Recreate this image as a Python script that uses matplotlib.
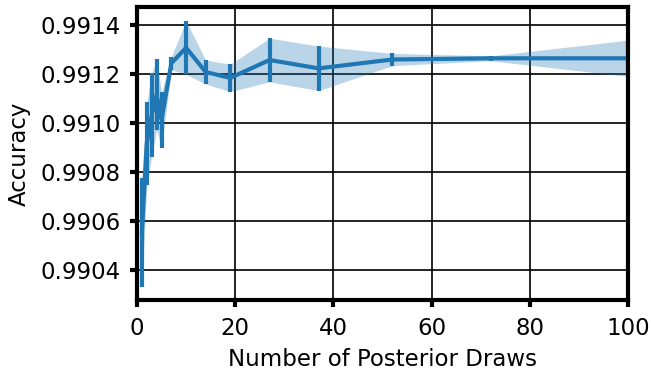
import matplotlib
matplotlib.use("Agg")
import matplotlib.pyplot as plt
import numpy as np

# posterior draws vs. accuracy (mean and spread)
draws = [1, 2, 3, 4, 5, 7, 10, 14, 19, 27, 37, 52, 72, 100]
acc_mean = [0.990553, 0.990917, 0.991033, 0.991116, 0.991013, 0.991244, 0.991307,
            0.991208, 0.991184, 0.991257, 0.991223, 0.991259, 0.991264, 0.991264]
acc_err = [0.000222, 0.000170, 0.000170, 0.000145, 0.000114, 0.000027, 0.000109,
           0.000049, 0.000056, 0.000089, 0.000091, 0.000025, 0.000010, 0.000074]

x = np.array(draws)
m = np.array(acc_mean)
e = np.array(acc_err)

fig = plt.figure(figsize=(6.51, 3.75), dpi=100)
ax = fig.add_axes([0.2104, 0.2, 0.7543, 0.7805])

ax.fill_between(x, m - e, m + e, color="#1f77b4", alpha=0.3, linewidth=0)
ax.errorbar(x, m, yerr=e, color="#1f77b4", lw=3, elinewidth=3, capsize=0)

ax.set_xlim(0, 100)
ax.set_ylim(0.990278, 0.991472)
ax.set_yticks([0.9904, 0.9906, 0.9908, 0.9910, 0.9912, 0.9914])
ax.set_xticks([0, 20, 40, 60, 80, 100])
ax.grid(True, color="black", lw=1.2)
ax.set_axisbelow(True)

for s in ax.spines.values():
    s.set_linewidth(3)
ax.tick_params(labelsize=16.5, width=3, length=5, pad=7)
ax.set_xlabel("Number of Posterior Draws", fontsize=16.5, labelpad=6)
ax.set_ylabel("Accuracy", fontsize=16.5, labelpad=7)

fig.savefig("out.png", dpi=100)
